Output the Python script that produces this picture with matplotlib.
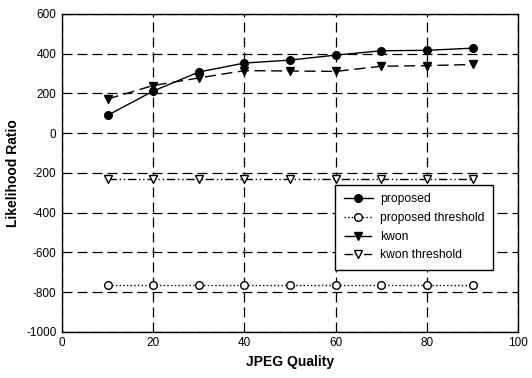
import matplotlib
matplotlib.use("Agg")
import matplotlib.pyplot as plt

plt.rcParams["font.family"] = ["Liberation Sans", "DejaVu Sans"]
plt.rcParams["axes.unicode_minus"] = False

quality = [10, 20, 30, 40, 50, 60, 70, 80, 90]
proposed = [90, 212, 308, 353, 368, 393, 415, 417, 428]
proposed_thr = [-765, -765, -765, -765, -765, -765, -765, -765, -765]
kwon = [172, 240, 278, 315, 313, 311, 337, 340, 346]
kwon_thr = [-230, -230, -230, -230, -230, -230, -230, -230, -230]

xticks = [0, 20, 40, 60, 80, 100]
yticks = [-1000, -800, -600, -400, -200, 0, 200, 400, 600]

fig = plt.figure(figsize=(5.32, 3.78), dpi=100)
ax = fig.add_axes([0.1165, 0.122, 0.8575, 0.841])

ms = 5.5
ax.plot(quality, proposed, "-", color="black", lw=1, marker="o", ms=ms,
        label="proposed", zorder=4)
ax.plot(quality, proposed_thr, ":", color="black", lw=1, marker="o", ms=ms,
        mfc="white", label="proposed threshold", zorder=4)
ax.plot(quality, kwon, color="black", lw=1, ls=(0, (8, 4)), marker="v", ms=ms,
        label="kwon", zorder=4)
ax.plot(quality, kwon_thr, color="black", lw=1, ls=(0, (6, 2, 1, 2, 1, 2)),
        marker="v", ms=ms, mfc="white", label="kwon threshold", zorder=4)

ax.set_xlim(0, 100)
ax.set_ylim(-1000, 600)
ax.set_xticks(xticks)
ax.set_yticks(yticks)
ax.grid(True, color="black", ls=(0, (8, 4)), lw=0.9)
ax.tick_params(direction="in", length=0, labelsize=8.5, pad=4)
for s in ax.spines.values():
    s.set_linewidth(1)

ax.set_xlabel("JPEG Quality", fontsize=10, fontweight="bold")
ax.set_ylabel("Likelihood Ratio", fontsize=10, fontweight="bold")

leg = ax.legend(loc="lower right", bbox_to_anchor=(0.945, 0.195), fontsize=8.7,
                frameon=True, fancybox=False, edgecolor="black",
                handlelength=2.4, handletextpad=0.6, labelspacing=0.55,
                borderpad=0.7, borderaxespad=0)
leg.get_frame().set_linewidth(1)
leg.get_frame().set_alpha(1)

fig.savefig("out.png", dpi=100)
